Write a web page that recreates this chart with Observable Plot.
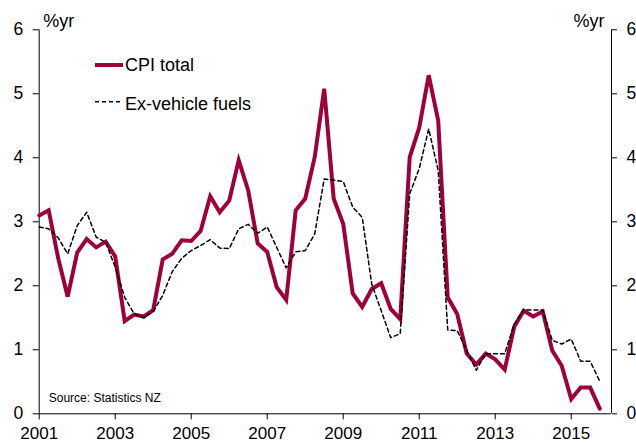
<!DOCTYPE html>
<html><head><meta charset="utf-8">
<script src="https://cdn.jsdelivr.net/npm/d3@7"></script>
<script src="https://cdn.jsdelivr.net/npm/@observablehq/plot@0.6"></script>
<style>
body{margin:0;background:#fff;}
#wrap{position:relative;width:636px;height:443px;overflow:hidden;font-family:"Liberation Sans",Arial,sans-serif;}
#wrap svg.overlay{position:absolute;left:0;top:0;pointer-events:none;}
</style></head><body><div id="wrap"></div>
<script>
const startYear = 2001;
const quarterStep = 0.25;
const cpiTotal = [3.10,3.18,2.43,1.83,2.52,2.73,2.60,2.69,2.46,1.45,
                  1.55,1.52,1.62,2.41,2.50,2.71,2.70,2.86,3.40,3.15,
                  3.33,3.96,3.49,2.66,2.53,1.98,1.78,3.18,3.36,4.01,
                  5.08,3.36,2.97,1.88,1.67,1.95,2.04,1.64,1.48,4.01,
                  4.47,5.29,4.58,1.82,1.56,0.94,0.77,0.94,0.85,0.69,
                  1.36,1.61,1.52,1.60,0.99,0.75,0.23,0.41,0.41,0.08];
const exVehicleFuels = [2.92,2.89,2.75,2.50,2.94,3.15,2.76,2.68,2.29,1.82,
                        1.56,1.50,1.60,1.85,2.22,2.43,2.55,2.63,2.72,2.59,
                        2.58,2.89,2.96,2.82,2.92,2.60,2.28,2.53,2.55,2.81,
                        3.67,3.65,3.63,3.23,3.07,2.03,1.61,1.19,1.25,3.44,
                        3.83,4.45,3.80,1.31,1.30,0.99,0.68,0.94,0.94,0.94,
                        1.40,1.63,1.62,1.62,1.15,1.09,1.17,0.82,0.82,0.51];
const xTicks = [2001,2003,2005,2007,2009,2011,2013,2015];
const yTicks = [0,1,2,3,4,5,6];
const xDomain = [2001, 2016.06];
const yDomain = [0, 6];
const seriesNames = ["CPI total","Ex-vehicle fuels"];
const unitLabel = "%yr";
const sourceNote = "Source: Statistics NZ";

const RED = "#a0003a";
const data = cpiTotal.map((v,i)=>({t: startYear + i*quarterStep, cpi: v, ex: exVehicleFuels[i]}));

const plot = Plot.plot({
  width:636, height:443,
  marginLeft:38.7, marginRight:25, marginTop:29.3, marginBottom:29.7,
  style:{fontFamily:"'Liberation Sans', Arial, sans-serif", fontSize:"17px", background:"transparent", color:"#000"},
  x:{domain:xDomain},
  y:{domain:yDomain},
  marks:[
    Plot.axisY(yTicks,{anchor:"left", tickSize:6, tickPadding:10, tickFormat:d=>String(d), label:null, fontSize:17.5}),
    Plot.axisY(yTicks,{anchor:"right", tickSize:5, tickPadding:10, tickFormat:d=>String(d), label:null, fontSize:17.5}),
    Plot.axisX(xTicks,{anchor:"bottom", tickSize:6, tickPadding:7, tickFormat:d=>String(d), label:null, fontSize:17}),
    Plot.ruleX(xDomain,{stroke:"#000", strokeWidth:1}),
    Plot.ruleY([yDomain[0]],{stroke:"#000", strokeWidth:1}),
    Plot.line(data,{x:"t", y:"cpi", stroke:RED, strokeWidth:4, strokeLinejoin:"miter", strokeMiterlimit:4}),
    Plot.line(data,{x:"t", y:"ex", stroke:"#000", strokeWidth:1.5, strokeDasharray:"4,3"}),
    Plot.text([unitLabel],{frameAnchor:"top-left", textAnchor:"start", lineAnchor:"top", dx:4, dy:-16, fontSize:18}),
    Plot.text([unitLabel],{frameAnchor:"top-right", textAnchor:"end", lineAnchor:"top", dx:-7, dy:-16, fontSize:18}),
    Plot.text([sourceNote],{frameAnchor:"bottom-left", textAnchor:"start", lineAnchor:"bottom", dx:9.5, dy:-12, fontSize:12})
  ]
});
const wrap = document.getElementById("wrap");
wrap.appendChild(plot);

// legend overlay
const ns = "http://www.w3.org/2000/svg";
const lg = document.createElementNS(ns,"svg");
lg.setAttribute("class","overlay");
lg.setAttribute("width","636"); lg.setAttribute("height","443");
const legendItems = [
  {name:seriesNames[0], stroke:RED, width:4, dash:null, y:65, ty:71.3},
  {name:seriesNames[1], stroke:"#000", width:1.5, dash:"4,3", y:101.7, ty:109.5}
];
legendItems.forEach(it=>{
  const l = document.createElementNS(ns,"line");
  l.setAttribute("x1","95"); l.setAttribute("x2","123");
  l.setAttribute("y1",it.y); l.setAttribute("y2",it.y);
  l.setAttribute("stroke",it.stroke); l.setAttribute("stroke-width",it.width);
  if (it.dash) l.setAttribute("stroke-dasharray",it.dash);
  lg.appendChild(l);
  const t = document.createElementNS(ns,"text");
  t.setAttribute("x","125"); t.setAttribute("y",it.ty);
  t.setAttribute("font-size","18"); t.setAttribute("font-family","'Liberation Sans', Arial, sans-serif");
  t.textContent = it.name;
  lg.appendChild(t);
});
wrap.appendChild(lg);
</script>
</body></html>
